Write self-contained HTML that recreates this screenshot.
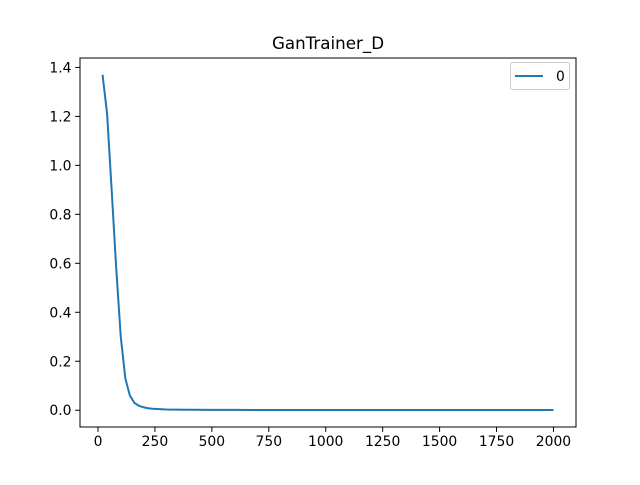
<!DOCTYPE html>
<html><head><meta charset="utf-8"><style>
body{margin:0;background:#fff}
svg text{font-family:"DejaVu Sans","Liberation Sans",sans-serif;fill:#000}
</style></head><body>
<svg id="chart" width="640" height="480" xmlns="http://www.w3.org/2000/svg">
<rect width="640" height="480" fill="#fff"/>
<text x="328" y="49" font-size="16.7" text-anchor="middle">GanTrainer_D</text>
<g id="xticks"></g>
<g id="yticks"></g>
<path id="series" fill="none" stroke="#1f77b4" stroke-width="2" stroke-linejoin="round"/>
<rect x="80" y="58" width="496" height="369" fill="none" stroke="#000" stroke-width="1"/>
<g>
<rect x="510.5" y="62.5" width="59" height="27" rx="2" fill="#fff" stroke="#ccc" stroke-width="1"/>
<line x1="515" y1="76" x2="543" y2="76" stroke="#1f77b4" stroke-width="2"/>
<text x="556" y="81" font-size="13.9">0</text>
</g>
</svg>
<script>
const xValues=[20,40,60,80,100,120,140,160,180,200,220,240,260,280,300,340,400,500,600,800,1000,1200,1400,1600,1800,2000];
const yValues=[1.37,1.21,0.9,0.58,0.3,0.13,0.06,0.03,0.018,0.012,0.008,0.006,0.005,0.004,0.003,0.0025,0.002,0.0015,0.0012,0.001,0.001,0.001,0.001,0.001,0.001,0.001];
const xTicks=[0,250,500,750,1000,1250,1500,1750,2000];
const yTicks=[0.0,0.2,0.4,0.6,0.8,1.0,1.2,1.4];
const L=80,R=576,T=58,B=427;
const xmin=-79,xmax=2099,ymin=-0.0685,ymax=1.4385;
const sx=v=>L+(v-xmin)/(xmax-xmin)*(R-L);
const sy=v=>B-(v-ymin)/(ymax-ymin)*(B-T);
const NS="http://www.w3.org/2000/svg";
const xg=document.getElementById('xticks'),yg=document.getElementById('yticks');
xTicks.forEach(t=>{
 const l=document.createElementNS(NS,'line');
 l.setAttribute('x1',sx(t));l.setAttribute('x2',sx(t));l.setAttribute('y1',B);l.setAttribute('y2',B+4.9);
 l.setAttribute('stroke','#000');l.setAttribute('stroke-width','1');
 
 
 xg.appendChild(l);
 const s=document.createElementNS(NS,'text');
 s.setAttribute('x',sx(t));s.setAttribute('y',B+19);s.setAttribute('font-size','13.9');s.setAttribute('text-anchor','middle');
 s.textContent=t;
 
 
 xg.appendChild(s);
});
yTicks.forEach(t=>{
 const l=document.createElementNS(NS,'line');
 l.setAttribute('x1',L-4.9);l.setAttribute('x2',L);l.setAttribute('y1',sy(t));l.setAttribute('y2',sy(t));
 l.setAttribute('stroke','#000');l.setAttribute('stroke-width','1');
 
 
 yg.appendChild(l);
 const s=document.createElementNS(NS,'text');
 s.setAttribute('x',L-8.5);s.setAttribute('y',sy(t)+5);s.setAttribute('font-size','13.9');s.setAttribute('text-anchor','end');
 s.textContent=t.toFixed(1);
 
 
 yg.appendChild(s);
});
document.getElementById('series').setAttribute('d',xValues.map((x,i)=>(i?'L':'M')+sx(x).toFixed(2)+' '+sy(yValues[i]).toFixed(2)).join(' '));
</script>
</body></html>
